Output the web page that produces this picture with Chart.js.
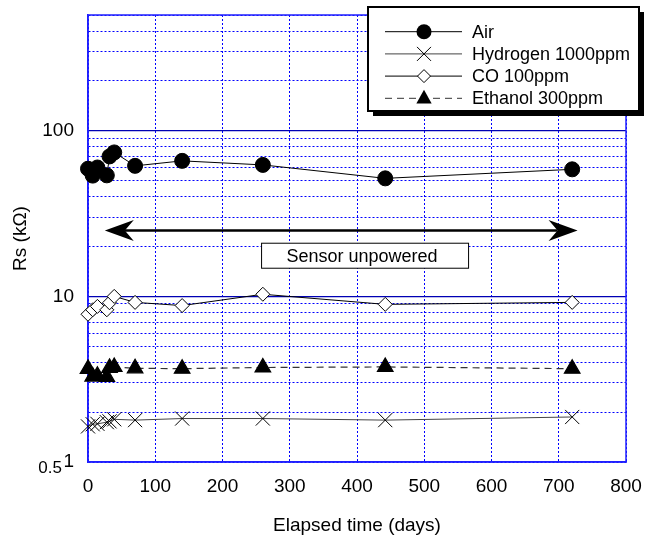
<!DOCTYPE html>
<html>
<head>
<meta charset="utf-8">
<script src="https://cdn.jsdelivr.net/npm/chart.js@4.4.0/dist/chart.umd.min.js"></script>
<style>
  html, body { margin: 0; padding: 0; background: #fff; }
</style>
</head>
<body>
<canvas id="sensorChart" width="653" height="537"></canvas>
<script>
  // Data
  const days = [0, 7, 14, 28, 32, 39, 70, 140, 260, 442, 720]
  const air = [59, 53.6, 60, 53.8, 70, 74, 61.4, 65.8, 62.2, 51.6, 58.5]
  const hydrogen = [1.64, 1.69, 1.7, 1.74, 1.76, 1.81, 1.79, 1.83, 1.83, 1.79, 1.87]
  const co = [7.8, 8.3, 8.7, 8.3, 9.15, 10, 9.2, 8.8, 10.3, 8.95, 9.2]
  const ethanol = [3.65, 3.28, 3.32, 3.26, 3.7, 3.75, 3.68, 3.66, 3.72, 3.75, 3.66]

  const seriesNames = ['Air', 'Hydrogen 1000ppm', 'CO 100ppm', 'Ethanol 300ppm']
  const yGridValues = [1, 2, 3, 4, 5, 6, 7, 8, 9, 10, 20, 30, 40, 50, 60, 70, 80, 90, 100, 200, 300, 400, 500]
  const yTickLabels = [1, 10, 100]
  const yMajorLines = [10, 100]

  // annotation: arrow span in days at Rs = 25 kOhm, label box centre
  const arrowSpan = [25, 728]
  const arrowLevel = 25
  const noteText = 'Sensor unpowered'
  const noteAt = { x: 412, y: 17.6 }

  const FONT = "'Liberation Sans', Arial, sans-serif"
  const GRID_BLUE = '#0000ff'
  const pts = ys => days.map((d, i) => ({ x: d, y: ys[i] }))

  function drawMarker(ctx, style, x, y, r) {
    ctx.beginPath()
    if (style === 'circle') {
      ctx.arc(x, y, r, 0, Math.PI * 2)
      ctx.fillStyle = '#000'
      ctx.fill()
    } else if (style === 'crossRot') {
      ctx.moveTo(x - r, y - r); ctx.lineTo(x + r, y + r)
      ctx.moveTo(x - r, y + r); ctx.lineTo(x + r, y - r)
      ctx.strokeStyle = '#000'; ctx.lineWidth = 1
      ctx.stroke()
    } else if (style === 'rectRot') {
      ctx.moveTo(x, y - r); ctx.lineTo(x + r, y); ctx.lineTo(x, y + r); ctx.lineTo(x - r, y)
      ctx.closePath()
      ctx.fillStyle = '#fff'; ctx.fill()
      ctx.strokeStyle = '#000'; ctx.lineWidth = 1; ctx.stroke()
    } else if (style === 'triangle') {
      ctx.moveTo(x, y - r); ctx.lineTo(x + r * 0.9, y + r * 0.6); ctx.lineTo(x - r * 0.9, y + r * 0.6)
      ctx.closePath()
      ctx.fillStyle = '#000'; ctx.fill()
    }
  }

  const framePlugin = {
    id: 'frame',
    beforeDatasetsDraw(chart) {
      const { ctx, chartArea: a } = chart
      ctx.save()
      ctx.strokeStyle = '#1f1fff'
      ctx.lineWidth = 1.5
      ctx.strokeRect(a.left, a.top, a.right - a.left, a.bottom - a.top)
      ctx.fillStyle = '#000'
      ctx.font = '17px ' + FONT
      ctx.textAlign = 'right'
      ctx.textBaseline = 'middle'
      ctx.fillText('0.5', a.left - 26, a.bottom + 6)
      ctx.restore()
    }
  }

  function arrowHead(ctx, tipX, y, dir) {
    ctx.beginPath()
    ctx.moveTo(tipX, y)
    ctx.lineTo(tipX + dir * 29, y - 10.5)
    ctx.lineTo(tipX + dir * 20, y)
    ctx.lineTo(tipX + dir * 29, y + 10.5)
    ctx.closePath()
    ctx.fill()
  }

  const notePlugin = {
    id: 'note',
    afterDatasetsDraw(chart) {
      const { ctx, scales: { x, y } } = chart
      const x1 = x.getPixelForValue(arrowSpan[0])
      const x2 = x.getPixelForValue(arrowSpan[1])
      const ay = y.getPixelForValue(arrowLevel)
      ctx.save()
      ctx.strokeStyle = '#000'
      ctx.fillStyle = '#000'
      ctx.lineWidth = 2.6
      ctx.beginPath()
      ctx.moveTo(x1 + 20, ay)
      ctx.lineTo(x2 - 20, ay)
      ctx.stroke()
      arrowHead(ctx, x1, ay, 1)
      arrowHead(ctx, x2, ay, -1)

      const cx = x.getPixelForValue(noteAt.x)
      const cy = y.getPixelForValue(noteAt.y)
      const bw = 207, bh = 25
      ctx.fillStyle = '#fff'
      ctx.fillRect(cx - bw / 2, cy - bh / 2, bw, bh)
      ctx.lineWidth = 1
      ctx.strokeRect(cx - bw / 2, cy - bh / 2, bw, bh)
      ctx.fillStyle = '#000'
      ctx.font = '18px ' + FONT
      ctx.textAlign = 'center'
      ctx.textBaseline = 'middle'
      ctx.fillText(noteText, cx - 3, cy + 1)
      ctx.restore()
    }
  }

  const legendPlugin = {
    id: 'boxLegend',
    afterDraw(chart) {
      const ctx = chart.ctx
      const x0 = 368, y0 = 7, w = 271, h = 104
      ctx.save()
      ctx.fillStyle = '#000'
      ctx.fillRect(x0 + 5, y0 + 5, w, h)
      ctx.fillStyle = '#fff'
      ctx.fillRect(x0, y0, w, h)
      ctx.strokeStyle = '#000'
      ctx.lineWidth = 2
      ctx.strokeRect(x0, y0, w, h)
      chart.data.datasets.forEach((ds, i) => {
        const ly = y0 + 24.7 + i * 22.2
        ctx.strokeStyle = ds.borderColor
        ctx.lineWidth = 1
        ctx.setLineDash(ds.borderDash || [])
        ctx.beginPath()
        ctx.moveTo(385, ly)
        ctx.lineTo(462, ly)
        ctx.stroke()
        ctx.setLineDash([])
        drawMarker(ctx, ds.pointStyle, 424, ly, ds.legendRadius)
        ctx.fillStyle = '#000'
        ctx.font = '18px ' + FONT
        ctx.textAlign = 'left'
        ctx.textBaseline = 'middle'
        ctx.fillText(ds.label, 472, ly + 1)
      })
      ctx.restore()
    }
  }

  const chart = new Chart(document.getElementById('sensorChart'), {
    type: 'line',
    data: {
      datasets: [{
        label: seriesNames[0],
        data: pts(air),
        clip: false,
        borderColor: '#000',
        borderWidth: 1,
        pointStyle: 'circle',
        pointRadius: 7.5,
        pointBackgroundColor: '#000',
        pointBorderColor: '#000',
        legendRadius: 7.5
      }, {
        label: seriesNames[1],
        data: pts(hydrogen),
        clip: false,
        borderColor: '#444',
        borderWidth: 1,
        pointStyle: 'crossRot',
        pointRadius: 10,
        pointBorderColor: '#000',
        pointBorderWidth: 1,
        legendRadius: 7
      }, {
        label: seriesNames[2],
        data: pts(co),
        clip: false,
        borderColor: '#000',
        borderWidth: 1,
        pointStyle: 'rectRot',
        pointRadius: 7,
        pointBackgroundColor: '#fff',
        pointBorderColor: '#000',
        pointBorderWidth: 1,
        legendRadius: 6.5
      }, {
        label: seriesNames[3],
        data: pts(ethanol),
        clip: false,
        borderColor: '#333',
        borderWidth: 1.2,
        borderDash: [7, 5],
        pointStyle: 'triangle',
        pointRadius: 9,
        pointBackgroundColor: '#000',
        pointBorderColor: '#000',
        legendRadius: 8.5
      }]
    },
    options: {
      responsive: false,
      animation: false,
      layout: { padding: { top: 15, right: 27, left: 0, bottom: 0 } },
      plugins: {
        legend: { display: false },
        tooltip: { enabled: false }
      },
      scales: {
        x: {
          type: 'linear',
          min: 0,
          max: 800,
          afterFit: ax => { ax.height = 75; ax.paddingLeft = 0; ax.paddingRight = 0 },
          ticks: { stepSize: 100, color: '#000', font: { family: FONT, size: 19 }, padding: 13 },
          grid: { color: GRID_BLUE, lineWidth: 1, drawTicks: false },
          border: { display: true, color: '#1f1fff', width: 1.5, dash: [2, 2] },
          title: {
            display: true,
            text: 'Elapsed time (days)',
            color: '#000',
            font: { family: FONT, size: 19 },
            padding: { top: 0, bottom: 0 }
          }
        },
        y: {
          type: 'logarithmic',
          position: 'left',
          min: 1,
          max: 500,
          afterFit: ax => { ax.width = 88; ax.paddingTop = 0; ax.paddingBottom = 0 },
          afterBuildTicks: ax => { ax.ticks = yGridValues.map(v => ({ value: v })) },
          ticks: {
            autoSkip: false,
            color: '#000',
            font: { family: FONT, size: 19 },
            padding: 14,
            callback: v => yTickLabels.includes(v) ? String(v) : ''
          },
          grid: { color: GRID_BLUE, lineWidth: 1, drawTicks: false },
          border: { display: true, color: '#1f1fff', width: 1.5, dash: [2, 2] },
          title: {
            display: true,
            text: 'Rs (kΩ)',
            color: '#000',
            font: { family: FONT, size: 19 },
            padding: { top: 9, bottom: 9 }
          }
        },
        yMajor: {
          type: 'logarithmic',
          position: 'left',
          min: 1,
          max: 500,
          afterFit: ax => { ax.width = 0; ax.paddingTop = 0; ax.paddingBottom = 0 },
          afterBuildTicks: ax => { ax.ticks = yMajorLines.map(v => ({ value: v })) },
          ticks: { display: false },
          grid: { color: '#0000b4', lineWidth: 1.2, drawTicks: false },
          border: { display: false }
        }
      }
    },
    plugins: [framePlugin, notePlugin, legendPlugin]
  })
</script>
</body>
</html>
